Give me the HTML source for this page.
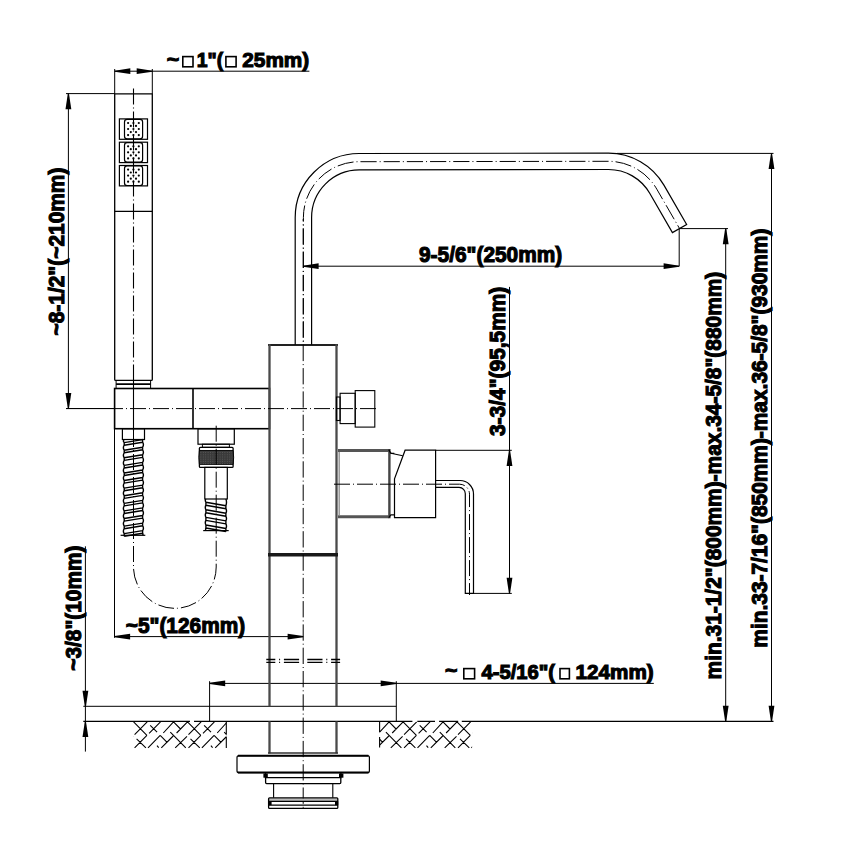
<!DOCTYPE html>
<html><head><meta charset="utf-8"><style>
html,body{margin:0;padding:0;background:#fff;width:862px;height:847px;overflow:hidden}
svg{display:block}
</style></head><body>
<svg width="862" height="847" viewBox="0 0 862 847">
<rect width="862" height="847" fill="#fff"/>
<g fill="none" stroke="#000" stroke-linecap="butt" stroke-linejoin="miter">
<line x1="114.7" y1="69" x2="114.7" y2="93.8" stroke-width="1.0" />
<line x1="152.3" y1="69" x2="152.3" y2="93.8" stroke-width="1.0" />
<line x1="114.7" y1="71.2" x2="309.4" y2="71.2" stroke-width="1.0" />
<path d="M114.70,70.65 L130.30,68.30 L130.30,74.10 L114.70,71.75 Z" fill="#000" stroke="none"/>
<path d="M152.30,71.75 L136.70,74.10 L136.70,68.30 L152.30,70.65 Z" fill="#000" stroke="none"/>
<line x1="66" y1="93.6" x2="114.7" y2="93.6" stroke-width="1.0" />
<line x1="68.4" y1="93.6" x2="68.4" y2="408.5" stroke-width="1.0" />
<path d="M68.95,93.60 L71.30,109.20 L65.50,109.20 L67.85,93.60 Z" fill="#000" stroke="none"/>
<path d="M67.85,408.50 L65.50,392.90 L71.30,392.90 L68.95,408.50 Z" fill="#000" stroke="none"/>
<line x1="66" y1="408.5" x2="114.7" y2="408.5" stroke-width="1.0" />
<line x1="303" y1="266.2" x2="679.2" y2="266.2" stroke-width="1.0" />
<path d="M303.00,265.65 L318.60,263.30 L318.60,269.10 L303.00,266.75 Z" fill="#000" stroke="none"/>
<path d="M679.20,266.75 L663.60,269.10 L663.60,263.30 L679.20,265.65 Z" fill="#000" stroke="none"/>
<line x1="679.2" y1="228.6" x2="679.2" y2="266.2" stroke-width="1.0" />
<line x1="679.2" y1="228.6" x2="728" y2="228.6" stroke-width="1.0" />
<line x1="617" y1="153.4" x2="773.5" y2="153.4" stroke-width="1.0" />
<line x1="725.7" y1="228.6" x2="725.7" y2="721.4" stroke-width="1.0" />
<path d="M726.25,228.60 L728.60,244.20 L722.80,244.20 L725.15,228.60 Z" fill="#000" stroke="none"/>
<path d="M725.15,721.40 L722.80,705.80 L728.60,705.80 L726.25,721.40 Z" fill="#000" stroke="none"/>
<line x1="771.5" y1="153.4" x2="771.5" y2="721.4" stroke-width="1.0" />
<path d="M772.05,153.40 L774.40,169.00 L768.60,169.00 L770.95,153.40 Z" fill="#000" stroke="none"/>
<path d="M770.95,721.40 L768.60,705.80 L774.40,705.80 L772.05,721.40 Z" fill="#000" stroke="none"/>
<line x1="435.6" y1="450.3" x2="511.8" y2="450.3" stroke-width="1.0" />
<line x1="509.5" y1="286.9" x2="509.5" y2="593.4" stroke-width="1.0" />
<path d="M510.05,450.30 L512.40,465.90 L506.60,465.90 L508.95,450.30 Z" fill="#000" stroke="none"/>
<path d="M508.95,593.40 L506.60,577.80 L512.40,577.80 L510.05,593.40 Z" fill="#000" stroke="none"/>
<line x1="473.7" y1="593.4" x2="511.8" y2="593.4" stroke-width="1.0" />
<line x1="114.5" y1="428.7" x2="114.5" y2="637.8" stroke-width="1.0" />
<line x1="114.5" y1="636.6" x2="303.2" y2="636.6" stroke-width="1.0" />
<path d="M114.50,636.05 L130.10,633.70 L130.10,639.50 L114.50,637.15 Z" fill="#000" stroke="none"/>
<path d="M303.20,637.15 L287.60,639.50 L287.60,633.70 L303.20,636.05 Z" fill="#000" stroke="none"/>
<line x1="85.4" y1="546.3" x2="85.4" y2="751.6" stroke-width="1.0" />
<path d="M84.85,706.40 L82.50,690.80 L88.30,690.80 L85.95,706.40 Z" fill="#000" stroke="none"/>
<path d="M85.95,721.40 L88.30,737.00 L82.50,737.00 L84.85,721.40 Z" fill="#000" stroke="none"/>
<line x1="209.6" y1="681.2" x2="209.6" y2="721.4" stroke-width="1.0" />
<line x1="396.3" y1="681.2" x2="396.3" y2="721.4" stroke-width="1.0" />
<line x1="209.6" y1="683.4" x2="653.8" y2="683.4" stroke-width="1.0" />
<path d="M209.60,682.85 L225.20,680.50 L225.20,686.30 L209.60,683.95 Z" fill="#000" stroke="none"/>
<path d="M396.30,683.95 L380.70,686.30 L380.70,680.50 L396.30,682.85 Z" fill="#000" stroke="none"/>
<line x1="83.3" y1="706.3" x2="396.3" y2="706.3" stroke-width="1.0" />
<path d="M83.3,721.4 L190,721.4 M194,721.4 L412.4,721.4 M417.3,721.4 L435,721.4 M439.1,721.4 L458.2,721.4 M461.8,721.4 L773.5,721.4" stroke-width="1.1"/>
<path d="M114.7,93.8 L152.3,93.8 L152.3,379.4 Q152.3,380.4 151.3,380.4 L115.7,380.4 Q114.7,380.4 114.7,379.4 Z" stroke-width="1.3" />
<line x1="114.7" y1="211.3" x2="152.3" y2="211.3" stroke-width="1.3" />
<rect x="119.4" y="118.9" width="28.1" height="20.4" stroke-width="1.2" />
<rect x="124.5" y="119.30000000000001" width="18.1" height="19.6" stroke-width="1.2" rx="2.6"/>
<circle cx="128.1" cy="123.00" r="1.1" fill="#000" stroke="none"/>
<circle cx="133.4" cy="123.00" r="1.1" fill="#000" stroke="none"/>
<circle cx="138.8" cy="123.00" r="1.1" fill="#000" stroke="none"/>
<circle cx="128.1" cy="129.00" r="1.1" fill="#000" stroke="none"/>
<circle cx="133.4" cy="129.00" r="1.1" fill="#000" stroke="none"/>
<circle cx="138.8" cy="129.00" r="1.1" fill="#000" stroke="none"/>
<circle cx="128.1" cy="135.10" r="1.1" fill="#000" stroke="none"/>
<circle cx="133.4" cy="135.10" r="1.1" fill="#000" stroke="none"/>
<circle cx="138.8" cy="135.10" r="1.1" fill="#000" stroke="none"/>
<circle cx="130.8" cy="125.90" r="1.1" fill="#000" stroke="none"/>
<circle cx="136.0" cy="125.90" r="1.1" fill="#000" stroke="none"/>
<circle cx="130.8" cy="132.10" r="1.1" fill="#000" stroke="none"/>
<circle cx="136.0" cy="132.10" r="1.1" fill="#000" stroke="none"/>
<rect x="119.4" y="142.2" width="28.1" height="20.4" stroke-width="1.2" />
<rect x="124.5" y="142.6" width="18.1" height="19.6" stroke-width="1.2" rx="2.6"/>
<circle cx="128.1" cy="146.30" r="1.1" fill="#000" stroke="none"/>
<circle cx="133.4" cy="146.30" r="1.1" fill="#000" stroke="none"/>
<circle cx="138.8" cy="146.30" r="1.1" fill="#000" stroke="none"/>
<circle cx="128.1" cy="152.30" r="1.1" fill="#000" stroke="none"/>
<circle cx="133.4" cy="152.30" r="1.1" fill="#000" stroke="none"/>
<circle cx="138.8" cy="152.30" r="1.1" fill="#000" stroke="none"/>
<circle cx="128.1" cy="158.40" r="1.1" fill="#000" stroke="none"/>
<circle cx="133.4" cy="158.40" r="1.1" fill="#000" stroke="none"/>
<circle cx="138.8" cy="158.40" r="1.1" fill="#000" stroke="none"/>
<circle cx="130.8" cy="149.20" r="1.1" fill="#000" stroke="none"/>
<circle cx="136.0" cy="149.20" r="1.1" fill="#000" stroke="none"/>
<circle cx="130.8" cy="155.40" r="1.1" fill="#000" stroke="none"/>
<circle cx="136.0" cy="155.40" r="1.1" fill="#000" stroke="none"/>
<rect x="119.4" y="165.5" width="28.1" height="20.4" stroke-width="1.2" />
<rect x="124.5" y="165.9" width="18.1" height="19.6" stroke-width="1.2" rx="2.6"/>
<circle cx="128.1" cy="169.60" r="1.1" fill="#000" stroke="none"/>
<circle cx="133.4" cy="169.60" r="1.1" fill="#000" stroke="none"/>
<circle cx="138.8" cy="169.60" r="1.1" fill="#000" stroke="none"/>
<circle cx="128.1" cy="175.60" r="1.1" fill="#000" stroke="none"/>
<circle cx="133.4" cy="175.60" r="1.1" fill="#000" stroke="none"/>
<circle cx="138.8" cy="175.60" r="1.1" fill="#000" stroke="none"/>
<circle cx="128.1" cy="181.70" r="1.1" fill="#000" stroke="none"/>
<circle cx="133.4" cy="181.70" r="1.1" fill="#000" stroke="none"/>
<circle cx="138.8" cy="181.70" r="1.1" fill="#000" stroke="none"/>
<circle cx="130.8" cy="172.50" r="1.1" fill="#000" stroke="none"/>
<circle cx="136.0" cy="172.50" r="1.1" fill="#000" stroke="none"/>
<circle cx="130.8" cy="178.70" r="1.1" fill="#000" stroke="none"/>
<circle cx="136.0" cy="178.70" r="1.1" fill="#000" stroke="none"/>
<path d="M116.1,380.4 L116.1,388.5 M150.6,380.4 L150.6,388.5" stroke-width="1.0" />
<line x1="116.1" y1="384.1" x2="150.6" y2="384.1" stroke-width="1.8" />
<rect x="114.6" y="388.5" width="154.9" height="40.2" stroke-width="1.6" />
<line x1="193" y1="388.5" x2="193" y2="428.7" stroke-width="1.6" />
<rect x="122.4" y="428.7" width="22.1" height="10.8" stroke-width="1.2" />
<path d="M124.20,442.60 L142.60,439.60 M124.20,445.20 L142.60,442.20 M124.20,450.19 L142.60,447.19 M124.20,452.79 L142.60,449.79 M124.20,457.78 L142.60,454.78 M124.20,460.38 L142.60,457.38 M124.20,465.37 L142.60,462.37 M124.20,467.97 L142.60,464.97 M124.20,472.96 L142.60,469.96 M124.20,475.56 L142.60,472.56 M124.20,480.55 L142.60,477.55 M124.20,483.15 L142.60,480.15 M124.20,488.14 L142.60,485.14 M124.20,490.74 L142.60,487.74 M124.20,495.73 L142.60,492.73 M124.20,498.33 L142.60,495.33 M124.20,503.32 L142.60,500.32 M124.20,505.92 L142.60,502.92 M124.20,510.91 L142.60,507.91 M124.20,513.51 L142.60,510.51 M124.20,518.50 L142.60,515.50 M124.20,521.10 L142.60,518.10 M124.20,526.09 L142.60,523.09 M124.20,528.69 L142.60,525.69 M124.20,533.68 L142.60,530.68 M124.20,536.28 L142.60,533.28 M124.20,439.50 Q122.55,441.05 124.20,442.60 L124.20,445.20 Q122.55,447.70 124.20,450.19 L124.20,452.79 Q122.55,455.29 124.20,457.78 L124.20,460.38 Q122.55,462.88 124.20,465.37 L124.20,467.97 Q122.55,470.47 124.20,472.96 L124.20,475.56 Q122.55,478.06 124.20,480.55 L124.20,483.15 Q122.55,485.65 124.20,488.14 L124.20,490.74 Q122.55,493.24 124.20,495.73 L124.20,498.33 Q122.55,500.83 124.20,503.32 L124.20,505.92 Q122.55,508.42 124.20,510.91 L124.20,513.51 Q122.55,516.00 124.20,518.50 L124.20,521.10 Q122.55,523.60 124.20,526.09 L124.20,528.69 Q122.55,531.19 124.20,533.68 L124.20,536.28 M142.60,439.50 Q143.42,439.55 142.60,439.60 L142.60,442.20 Q144.25,444.70 142.60,447.19 L142.60,449.79 Q144.25,452.29 142.60,454.78 L142.60,457.38 Q144.25,459.88 142.60,462.37 L142.60,464.97 Q144.25,467.47 142.60,469.96 L142.60,472.56 Q144.25,475.06 142.60,477.55 L142.60,480.15 Q144.25,482.65 142.60,485.14 L142.60,487.74 Q144.25,490.24 142.60,492.73 L142.60,495.33 Q144.25,497.83 142.60,500.32 L142.60,502.92 Q144.25,505.42 142.60,507.91 L142.60,510.51 Q144.25,513.00 142.60,515.50 L142.60,518.10 Q144.25,520.60 142.60,523.09 L142.60,525.69 Q144.25,528.19 142.60,530.68 L142.60,533.28 Q143.42,534.29 142.60,535.30" stroke-width="1.4" />
<line x1="120.6" y1="535.3" x2="145.3" y2="535.3" stroke-width="1.2" />
<rect x="198" y="428.8" width="36.3" height="15.4" stroke-width="1.2" />
<rect x="202.4" y="444.2" width="27" height="3.1" stroke-width="1.0" />
<rect x="199.4" y="447.3" width="33.7" height="20.1" stroke-width="1.3" rx="1"/>
<path d="M199.4,450.5 L233.1,450.5 Q234.2,457.4 233.1,464.4 L199.4,464.4 Q198.3,457.4 199.4,450.5 Z" fill="#3a3a3a" stroke="#000" stroke-width="0.9"/>
<path d="M200.5,452.6 L232,452.6 M200.5,454.8 L232,454.8 M200.5,457.0 L232,457.0 M200.5,459.2 L232,459.2 M200.5,461.4 L232,461.4 M200.5,463.6 L232,463.6" stroke="#777" stroke-width="0.6" stroke-dasharray="0.8 1.6"/>
<rect x="204.8" y="467.4" width="22.5" height="31.6" stroke-width="1.2" />
<path d="M205.90,502.20 L225.90,505.70 M205.90,505.20 L225.90,508.70 M205.90,509.80 L225.90,513.30 M205.90,512.80 L225.90,516.30 M205.90,517.40 L225.90,520.90 M205.90,520.40 L225.90,523.90 M205.90,525.00 L225.90,528.50 M205.90,528.00 L225.90,531.50 M205.90,499.00 Q204.69,500.60 205.90,502.20 L205.90,505.20 Q204.69,507.50 205.90,509.80 L205.90,512.80 Q204.69,515.10 205.90,517.40 L205.90,520.40 Q204.69,522.70 205.90,525.00 L205.90,528.00 Q205.30,529.30 205.90,530.60 M225.90,499.00 Q227.11,502.35 225.90,505.70 L225.90,508.70 Q227.11,511.00 225.90,513.30 L225.90,516.30 Q227.11,518.60 225.90,520.90 L225.90,523.90 Q227.11,526.20 225.90,528.50 L225.90,531.50" stroke-width="1.4" />
<line x1="203.2" y1="530.6" x2="228.7" y2="530.6" stroke-width="1.2" />
<path d="M133.5,88.5 L133.5,367" stroke-width="1.1" stroke-dasharray="16 3 1 3"/>
<line x1="133.5" y1="367" x2="133.5" y2="431" stroke-width="1.1" />
<path d="M133.5,431 L133.5,567 A41.35,41.35 0 0 0 216.2,567 L216.2,424.5" stroke-width="1" stroke-dasharray="16 3 1 3"/>
<line x1="268" y1="345" x2="338" y2="345" stroke-width="2.0" stroke="#222"/>
<line x1="269.5" y1="344.2" x2="269.5" y2="706.3" stroke-width="2.3" stroke="#4a4a4a"/>
<line x1="336.5" y1="344.2" x2="336.5" y2="706.3" stroke-width="2.3" stroke="#4a4a4a"/>
<line x1="268" y1="554.7" x2="338" y2="554.7" stroke-width="3.4" stroke="#1a1a1a"/>
<line x1="269.5" y1="721.4" x2="269.5" y2="753.4" stroke-width="2.3" stroke="#4a4a4a"/>
<line x1="336.5" y1="721.4" x2="336.5" y2="753.4" stroke-width="2.3" stroke="#4a4a4a"/>
<line x1="268" y1="753.0" x2="338" y2="753.0" stroke-width="1.4" stroke="#333"/>
<path d="M266.3,659.5 L275.3,659.5 M279.1,659.5 L280.1,659.5 M283.9,659.5 L299.1,659.5 M307.3,659.5 L322.5,659.5 M326.3,659.5 L327.3,659.5 M331.1,659.5 L340.1,659.5 M266.3,662.4 L275.3,662.4 M279.1,662.4 L280.1,662.4 M283.9,662.4 L299.1,662.4 M307.3,662.4 L322.5,662.4 M326.3,662.4 L327.3,662.4 M331.1,662.4 L340.1,662.4" stroke-width="1.3"/>
<line x1="303.2" y1="219" x2="303.2" y2="810" stroke-width="1" stroke-dasharray="16.3 3 1 3" stroke-dashoffset="14"/>
<path d="M295.2,344.8 L295.2,217.50 A64.0,64.0 0 0 1 359.2,153.50 L608.5,153.10 A64.0,64.0 0 0 1 663.93,185.10 L686.63,224.42 L672.42,232.62 L649.72,193.30 A47.6,47.6 0 0 0 608.5,169.50 L359.2,169.90 A47.6,47.6 0 0 0 311.6,217.50 L311.6,344.8" stroke-width="1.2" />
<path d="M303.4,344.8 L303.4,217.50 A55.8,55.8 0 0 1 359.2,161.70 L608.5,161.30 A55.8,55.8 0 0 1 656.82,189.20 L679.52,228.52" stroke-width="1" stroke-dasharray="16.2 3 1 3" stroke-dashoffset="15.95"/>
<rect x="336.4" y="397" width="3.7" height="23.5" stroke-width="1.1" />
<rect x="340.1" y="393.3" width="15.1" height="30.3" stroke-width="1.1" />
<rect x="355.2" y="390.6" width="19.6" height="36.5" stroke-width="1.1" />
<line x1="66" y1="408.6" x2="114.6" y2="408.6" stroke-width="1.0" />
<line x1="114.6" y1="408.6" x2="378" y2="408.6" stroke-width="1.0" stroke-dasharray="16 3 1 3" stroke-dashoffset="-61.4"/>
<line x1="338" y1="450.5" x2="388.7" y2="450.5" stroke-width="3" stroke="#555"/>
<line x1="338" y1="516.8" x2="388.7" y2="516.8" stroke-width="3" stroke="#555"/>
<line x1="389.4" y1="449" x2="389.4" y2="518.3" stroke-width="2.4" stroke="#444"/>
<line x1="339.2" y1="452" x2="339.2" y2="515.3" stroke-width="1.5" stroke="#999"/>
<path d="M388.7,449.6 L390.9,453.3 L394.3,453.3 M388.7,517.6 L390.9,514.9 L394.3,514.9" stroke-width="1.2" />
<line x1="390.9" y1="453.3" x2="402.7" y2="455.8" stroke-width="1.1" />
<path d="M405.1,450.2 L435.6,450.2 L435.6,517.6 L394.5,517.6 L394.5,478.9 Z" stroke-width="1.2" />
<path d="M435.6,480.5 L460,480.5 A13.5,13.5 0 0 1 473.5,494 L473.5,593.4 L465.3,593.4 L465.3,494 A6.3,6.3 0 0 0 459,487.4 L435.6,487.4" stroke-width="1.2" />
<path d="M334,484.2 L459.5,484.2 A10,10 0 0 1 469.5,494.2 L469.5,595" stroke-width="1" stroke-dasharray="16 3 1 3"/>
<path d="M239,755.6 L367.4,755.6 Q369.4,755.6 369.4,757.6 L369.4,770.7 Q369.4,772.7 367.4,772.7 L239,772.7 Q237,772.7 237,770.7 L237,757.6 Q237,755.6 239,755.6 Z" stroke-width="1.2" />
<line x1="238" y1="755.8" x2="368.4" y2="755.8" stroke-width="2.0" />
<line x1="238" y1="772.6" x2="368.4" y2="772.6" stroke-width="2.0" />
<path d="M265.5,772.7 L265.5,777.7 L340.9,777.7 L340.9,772.7" stroke-width="1.3" />
<path d="M265.6,777.7 L265.6,782.6 Q265.6,783.6 266.6,783.6 L339.8,783.6 Q340.8,783.6 340.8,782.6 L340.8,777.7" stroke-width="1.3" />
<path d="M273.6,783.6 L273.6,797.8 M332.8,783.6 L332.8,797.8" stroke-width="1.1" />
<rect x="268.6" y="798.3" width="69.2" height="3" fill="#bbb" stroke="none"/>
<path d="M269.6,797.8 L336.8,797.8 Q337.8,797.8 337.8,798.8 L337.8,807.4 Q337.8,808.4 336.8,808.4 L269.6,808.4 Q268.6,808.4 268.6,807.4 L268.6,798.8 Q268.6,797.8 269.6,797.8 Z M268.6,801.3 L337.8,801.3 M268.6,805.1 L337.8,805.1" stroke-width="1.3" />
<rect x="263.4" y="773.5" width="4.4" height="4.2" fill="#000" stroke="none"/>
<rect x="339.0" y="773.5" width="4.4" height="4.2" fill="#000" stroke="none"/>
<rect x="268.4" y="801.3" width="3.2" height="3.8" fill="#000" stroke="none"/>
<rect x="335.0" y="801.3" width="3.2" height="3.8" fill="#000" stroke="none"/>
<clipPath id="h1"><rect x="133.5" y="721.4" width="92.9" height="27"/><rect x="379.6" y="721.4" width="92.5" height="27"/></clipPath>
<path d="M79.70,721.8 L93.00,735.4 M93.30,721.8 L80.70,734.6 M93.00,735.4 L80.70,747.9 M82.70,738.9 L92.00,747.9 M106.60,721.8 L95.20,733.4 M96.30,725.3 L103.20,732.2 M106.30,735.4 L94.10,747.9 M106.30,735.4 L113.20,742.4 M119.30,736.0 L107.40,747.9 M103.10,745.6 L104.80,747.6 M119.60,721.8 L109.40,733.0 M119.60,721.8 L126.60,729.0 M116.40,732.2 L131.90,747.9 M133.10,736.3 L121.30,747.9 M133.60,721.8 L122.70,733.0 M133.60,721.8 L146.90,735.4 M147.20,721.8 L134.60,734.6 M146.90,735.4 L134.60,747.9 M136.60,738.9 L145.90,747.9 M160.50,721.8 L149.10,733.4 M150.20,725.3 L157.10,732.2 M160.20,735.4 L148.00,747.9 M160.20,735.4 L167.10,742.4 M173.20,736.0 L161.30,747.9 M157.00,745.6 L158.70,747.6 M173.50,721.8 L163.30,733.0 M173.50,721.8 L180.50,729.0 M170.30,732.2 L185.80,747.9 M187.00,736.3 L175.20,747.9 M187.50,721.8 L176.60,733.0 M187.50,721.8 L200.80,735.4 M201.10,721.8 L188.50,734.6 M200.80,735.4 L188.50,747.9 M190.50,738.9 L199.80,747.9 M214.40,721.8 L203.00,733.4 M204.10,725.3 L211.00,732.2 M214.10,735.4 L201.90,747.9 M214.10,735.4 L221.00,742.4 M227.10,736.0 L215.20,747.9 M210.90,745.6 L212.60,747.6 M227.40,721.8 L217.20,733.0 M227.40,721.8 L234.40,729.0 M224.20,732.2 L239.70,747.9 M240.90,736.3 L229.10,747.9 M241.40,721.8 L230.50,733.0 M241.40,721.8 L254.70,735.4 M255.00,721.8 L242.40,734.6 M254.70,735.4 L242.40,747.9 M244.40,738.9 L253.70,747.9 M268.30,721.8 L256.90,733.4 M258.00,725.3 L264.90,732.2 M268.00,735.4 L255.80,747.9 M268.00,735.4 L274.90,742.4 M281.00,736.0 L269.10,747.9 M264.80,745.6 L266.50,747.6 M281.30,721.8 L271.10,733.0 M281.30,721.8 L288.30,729.0 M278.10,732.2 L293.60,747.9 M294.80,736.3 L283.00,747.9 M295.30,721.8 L284.40,733.0 M295.30,721.8 L308.60,735.4 M308.90,721.8 L296.30,734.6 M308.60,735.4 L296.30,747.9 M298.30,738.9 L307.60,747.9 M322.20,721.8 L310.80,733.4 M311.90,725.3 L318.80,732.2 M321.90,735.4 L309.70,747.9 M321.90,735.4 L328.80,742.4 M334.90,736.0 L323.00,747.9 M318.70,745.6 L320.40,747.6 M335.20,721.8 L325.00,733.0 M335.20,721.8 L342.20,729.0 M332.00,732.2 L347.50,747.9 M348.70,736.3 L336.90,747.9 M349.20,721.8 L338.30,733.0 M349.20,721.8 L362.50,735.4 M362.80,721.8 L350.20,734.6 M362.50,735.4 L350.20,747.9 M352.20,738.9 L361.50,747.9 M376.10,721.8 L364.70,733.4 M365.80,725.3 L372.70,732.2 M375.80,735.4 L363.60,747.9 M375.80,735.4 L382.70,742.4 M388.80,736.0 L376.90,747.9 M372.60,745.6 L374.30,747.6 M389.10,721.8 L378.90,733.0 M389.10,721.8 L396.10,729.0 M385.90,732.2 L401.40,747.9 M402.60,736.3 L390.80,747.9 M403.10,721.8 L392.20,733.0 M403.10,721.8 L416.40,735.4 M416.70,721.8 L404.10,734.6 M416.40,735.4 L404.10,747.9 M406.10,738.9 L415.40,747.9 M430.00,721.8 L418.60,733.4 M419.70,725.3 L426.60,732.2 M429.70,735.4 L417.50,747.9 M429.70,735.4 L436.60,742.4 M442.70,736.0 L430.80,747.9 M426.50,745.6 L428.20,747.6 M443.00,721.8 L432.80,733.0 M443.00,721.8 L450.00,729.0 M439.80,732.2 L455.30,747.9 M456.50,736.3 L444.70,747.9 M457.00,721.8 L446.10,733.0 M457.00,721.8 L470.30,735.4 M470.60,721.8 L458.00,734.6 M470.30,735.4 L458.00,747.9 M460.00,738.9 L469.30,747.9 M483.90,721.8 L472.50,733.4 M473.60,725.3 L480.50,732.2 M483.60,735.4 L471.40,747.9 M483.60,735.4 L490.50,742.4 M496.60,736.0 L484.70,747.9 M480.40,745.6 L482.10,747.6 M496.90,721.8 L486.70,733.0 M496.90,721.8 L503.90,729.0 M493.70,732.2 L509.20,747.9 M510.40,736.3 L498.60,747.9 M510.90,721.8 L500.00,733.0" stroke-width="1.1" clip-path="url(#h1)"/>
<line x1="226.3" y1="721.4" x2="226.3" y2="734.5" stroke-width="1.1" />
<line x1="226.3" y1="737.1" x2="226.3" y2="747.9" stroke-width="1.1" />
<line x1="379.6" y1="721.4" x2="379.6" y2="731.9" stroke-width="1.1" />
<line x1="379.6" y1="736.9" x2="379.6" y2="747.6" stroke-width="1.1" />
<g font-family="Liberation Sans, sans-serif" font-weight="bold" fill="#000" stroke="#000" font-size="100" letter-spacing="0">
<text transform="translate(166.79,66.0) scale(0.2143,0.2100)" stroke-width="5.238">~</text>
<text transform="translate(196.82,67.0) scale(0.1941,0.2100)" stroke-width="5.238">1"(</text>
<text transform="translate(242.29,67.0) scale(0.2078,0.2100)" stroke-width="5.238">25mm)</text>
<text transform="translate(63.9,335.3) rotate(-90) translate(-0.21,0) scale(0.2090,0.2160)" stroke-width="5.093">~8-1/2"(~210mm)</text>
<text transform="translate(418.99,261.6) scale(0.2088,0.2160)" stroke-width="5.093">9-5/6"(250mm)</text>
<text transform="translate(505.0,436.0) rotate(-90) translate(-0.00,0) scale(0.2091,0.2160)" stroke-width="5.093">3-3/4"(95,5mm)</text>
<text transform="translate(721.1,678.6) rotate(-90) translate(-0.84,0) scale(0.2090,0.2160)" stroke-width="5.093">min.31-1/2"(800mm)-max.34-5/8"(880mm)</text>
<text transform="translate(766.9,646.8) rotate(-90) translate(-0.84,0) scale(0.2089,0.2160)" stroke-width="5.093">min.33-7/16"(850mm)-max.36-5/8"(930mm)</text>
<text transform="translate(125.79,633.0) scale(0.2084,0.2160)" stroke-width="5.093">~5"(126mm)</text>
<text transform="translate(81.1,670.5) rotate(-90) translate(-0.21,0) scale(0.2084,0.2160)" stroke-width="5.093">~3/8"(10mm)</text>
<text transform="translate(444.89,677.0) scale(0.2125,0.2000)" stroke-width="5.5">~</text>
<text transform="translate(481.50,678.7) scale(0.2019,0.2000)" stroke-width="5.5">4-5/16"(</text>
<text transform="translate(575.57,678.7) scale(0.2067,0.2000)" stroke-width="5.5">124mm)</text>
</g>
<rect x="182.8" y="56.6" width="10.2" height="10.2" stroke-width="1.6" />
<rect x="225.9" y="56.6" width="10.2" height="10.2" stroke-width="1.6" />
<rect x="463.8" y="668.6" width="10.8" height="10.2" stroke-width="1.6" />
<rect x="560" y="668.6" width="9.4" height="10.2" stroke-width="1.6" />
</g>
</svg>
</body></html>
